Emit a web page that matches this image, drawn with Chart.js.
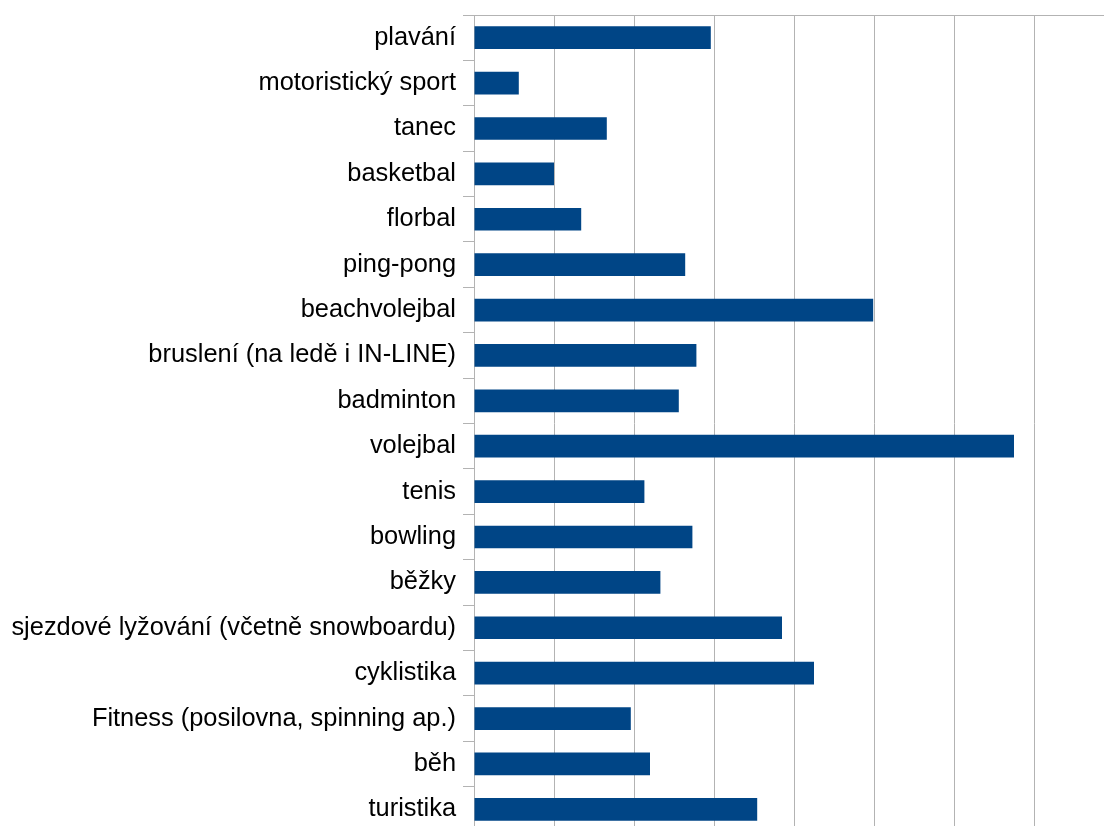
<!DOCTYPE html>
<html>
<head>
<meta charset="utf-8">
<script src="https://cdn.jsdelivr.net/npm/chart.js@4"></script>
<style>
  html, body { margin: 0; padding: 0; background: #fff; overflow: hidden; }
  #wrap { position: relative; width: 1120px; height: 840px; }
</style>
</head>
<body>
<div id="wrap"><canvas id="sportChart"></canvas></div>
<script>
// kategorie (shora dolů)
const sports = [
  'plavání', 'motoristický sport', 'tanec', 'basketbal', 'florbal',
  'ping-pong', 'beachvolejbal', 'bruslení (na ledě i IN-LINE)', 'badminton',
  'volejbal', 'tenis', 'bowling', 'běžky',
  'sjezdové lyžování (včetně snowboardu)', 'cyklistika',
  'Fitness (posilovna, spinning ap.)', 'běh', 'turistika'
];

// hodnoty
const values = [
  2.96, 0.56, 1.66, 1.0, 1.34,
  2.64, 4.99, 2.78, 2.56,
  6.75, 2.13, 2.73, 2.33,
  3.85, 4.25,
  1.96, 2.2, 3.54
];

const axisMax = 8;
const gridGray = '#b3b3b3';

const ctx = document.getElementById('sportChart').getContext('2d');

const sportChart = new Chart(ctx, {
    type: 'bar',
    data: {
        labels: sports,
        datasets: [{
            data: values,
            backgroundColor: '#004586',
            borderWidth: 0,
            barPercentage: 0.5,
            categoryPercentage: 1
        }]
    },
    options: {
        indexAxis: 'y',
        responsive: true,
        maintainAspectRatio: false,
        animation: false,
        layout: { padding: { top: 15, right: 6, bottom: 8, left: 0 } },
        scales: {
            x: {
                min: 0,
                max: axisMax,
                ticks: { display: false, stepSize: 1 },
                grid: { color: gridGray, lineWidth: 1, drawTicks: false },
                border: { display: false }
            },
            y: {
                afterFit: (scale) => {
                    scale.width = 474;
                    // popisky jsou uprostřed pásů, okraj navíc netřeba
                    scale.paddingTop = 0;
                    scale.paddingBottom = 0;
                },
                ticks: {
                    color: '#000',
                    padding: 7,
                    font: { family: 'Liberation Sans, Arial, sans-serif', size: 25.4 }
                },
                grid: {
                    offset: true,
                    tickLength: 11,
                    tickColor: gridGray,
                    color: (c) => c.index === 0 ? gridGray : 'transparent'
                },
                border: { display: true, color: gridGray }
            }
        },
        plugins: {
            legend: { display: false },
            tooltip: { enabled: false }
        }
    }
});
</script>
</body>
</html>
